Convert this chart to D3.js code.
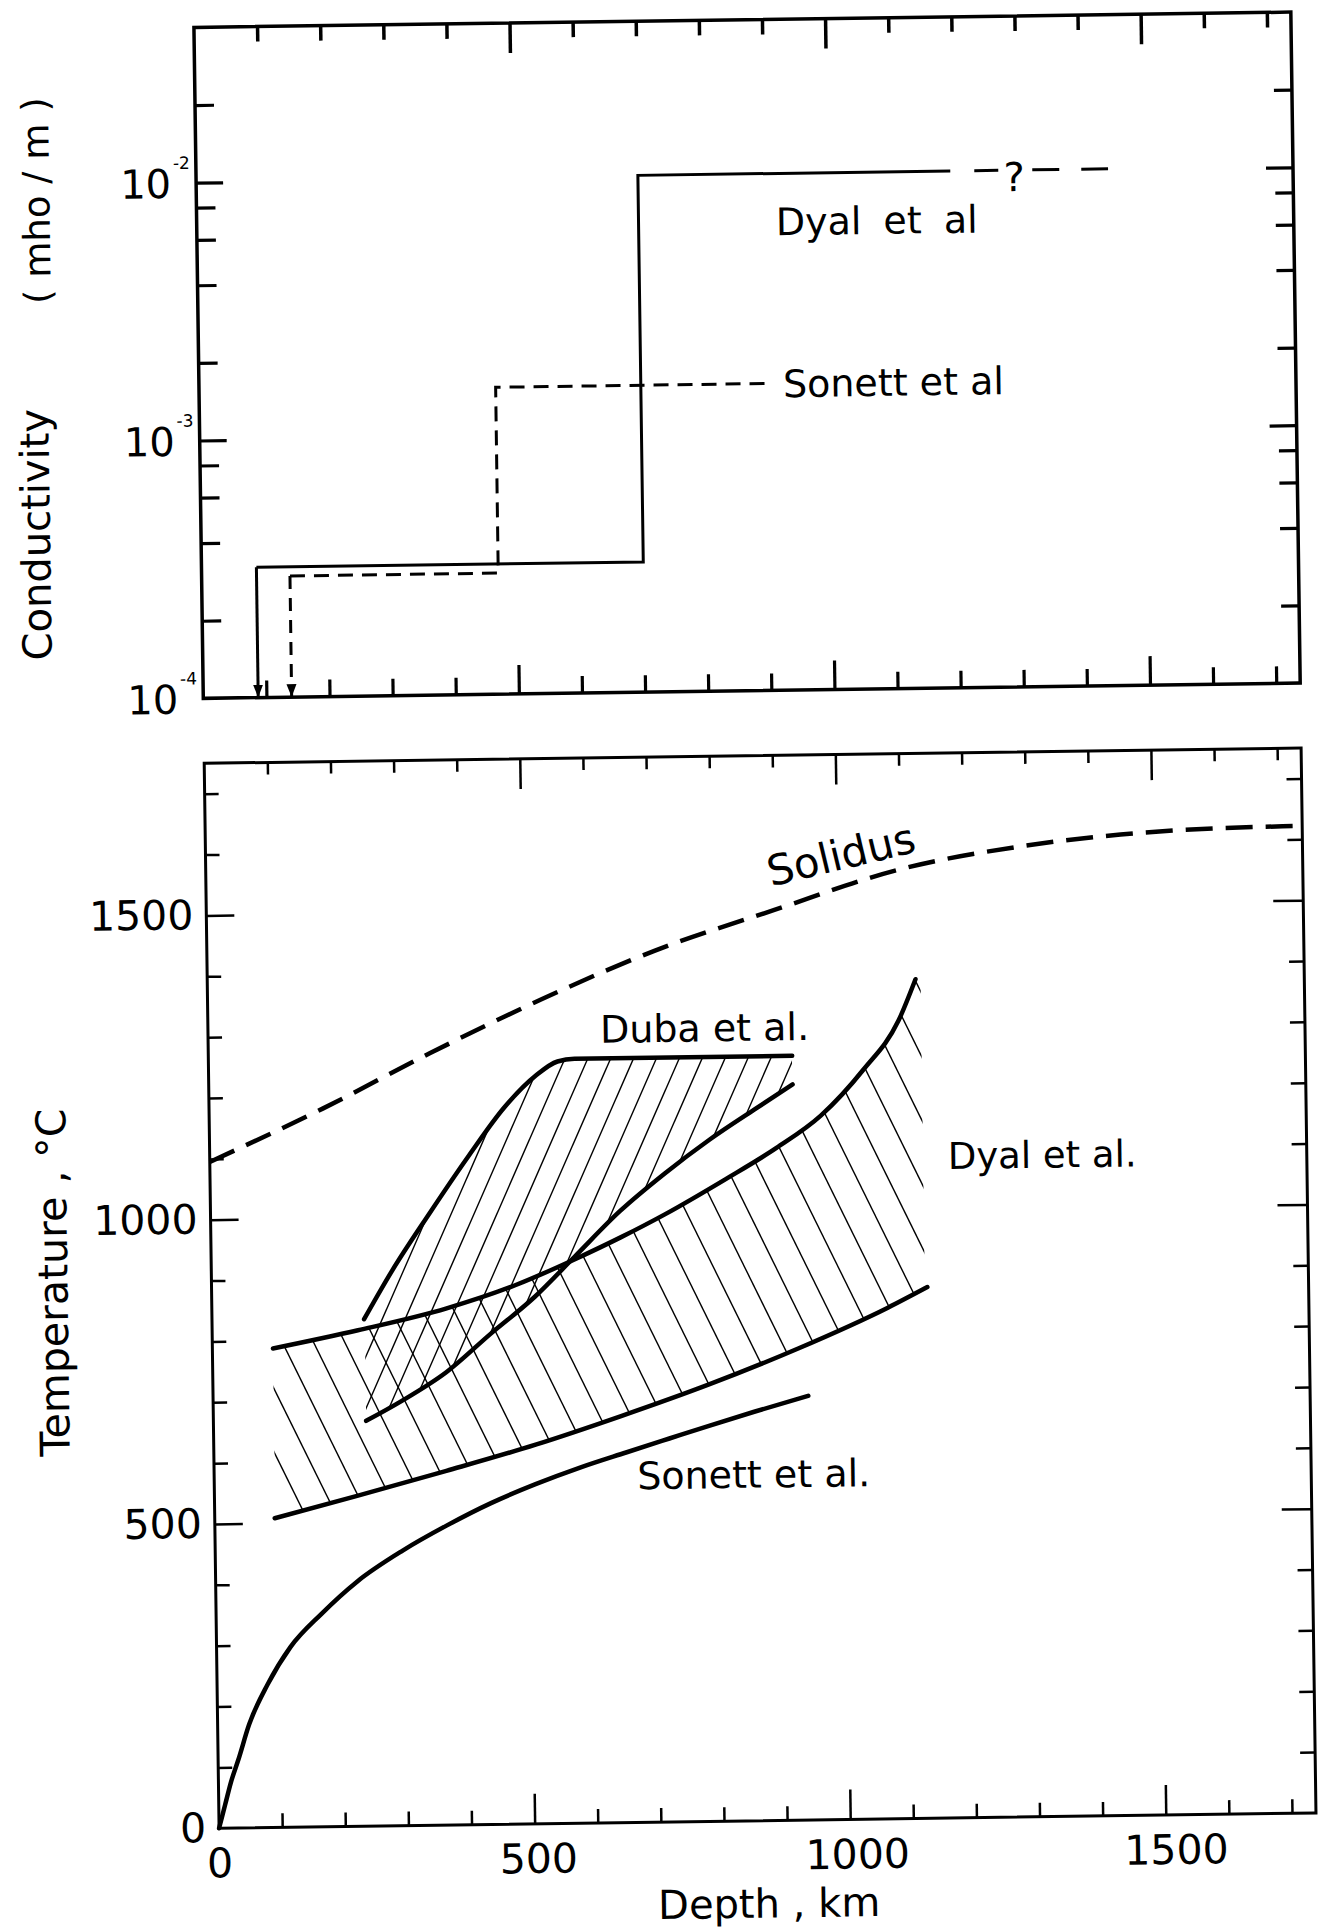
<!DOCTYPE html>
<html><head><meta charset="utf-8">
<script src="https://cdn.jsdelivr.net/npm/d3@7"></script>
<style>
html,body{margin:0;padding:0;background:#fff;}
svg{display:block;}
text{font-family:"DejaVu Sans",sans-serif;fill:#000;}
</style></head><body>
<svg id="chart" width="1319" height="1931"></svg>
<script>
// ---------------- data ----------------
const depthTicks = d3.range(100, 1701, 100);
const depthMajor = [500, 1000, 1500];
const depthLabels = [0, 500, 1000, 1500];
const condMajor = [1e-3, 1e-2];
const condMinor = [2e-4, 4e-4, 6e-4, 8e-4, 2e-3, 4e-3, 6e-3, 8e-3, 2e-2];
const condLabelExp = [-2, -3, -4];
const tempTicks = d3.range(100, 1701, 100);
const tempMajor = [500, 1000, 1500];
const tempLabels = [0, 500, 1000, 1500];

// conductivity step profiles (depth km, conductivity mho/m)
const dyalCondDepth = [87, 700, 1195];
const dyalCond = [3.2e-4, 1.01e-2];
const dyalCondExtDepth = [1195, 1445];
const sonettCondDepth = [140, 470, 900];
const sonettCond = [2.95e-4, 1.55e-3];

// temperature profiles (depth km, temperature C)
const solidus = [[0,1095],[180,1180],[350,1268],[530,1355],[710,1432],[900,1496],[1100,1560],[1300,1596],[1450,1612],[1600,1620],[1738,1622]];
const sonettTemp = [[0,0],[10,38],[20,76],[32,112],[50,170],[80,235],[117,296],[167,350],[224,402],[297,452],[367,492],[438,528],[509,558],[582,585],[653,608],[722,630],[785,650],[857,672],[943,697]];
const dyalUpper = [[96,787],[231,815],[372,849],[480,885],[579,928],[650,962],[719,998],[817,1055],[898,1105],[969,1157],[1037,1231],[1094,1311],[1122,1379]];
const dyalLower = [[95,508],[226,543],[368,582],[510,623],[646,668],[786,718],[928,775],[1071,840],[1134,873]];
const dubaUpper = [[241,833],[287,913],[346,1004],[411,1100],[468,1178],[518,1229],[553,1252],[580,1256],[925,1256]];
const dubaLower = [[242,666],[299,698],[370,744],[441,806],[512,866],[577,932],[649,1005],[721,1066],[792,1120],[863,1168],[925,1209]];

// ---------------- layout ----------------
const L = 207, R = 1304;
const TOP1 = 21, BOT1 = 692;
const TOP2 = 757, BOT2 = 1822;
const x = d3.scaleLinear().domain([0, 1738]).range([L, R]);
const yC = d3.scaleLog().domain([1e-4, 4e-2]).range([BOT1, TOP1]);
const yT = d3.scaleLinear().domain([0, 1750]).range([BOT2, TOP2]);

const svg = d3.select('#chart');
svg.append('rect').attr('width', 1319).attr('height', 1931).attr('fill', '#fff');
const defs = svg.append('defs');
defs.append('marker').attr('id', 'arr').attr('markerUnits', 'userSpaceOnUse')
  .attr('viewBox', '0 -6 14 12').attr('refX', 13).attr('refY', 0)
  .attr('markerWidth', 14).attr('markerHeight', 12).attr('orient', 'auto')
  .append('path').attr('d', 'M0,-5L13,0L0,5Z').attr('fill', '#000');

// the scanned figure is slightly tilted
const g = svg.append('g').attr('transform', 'rotate(-0.8,660,960)');

function ticks(axisGen, transform, values, size, width) {
  const a = g.append('g').attr('transform', transform)
    .call(axisGen.tickValues(values).tickSize(size).tickFormat(''));
  a.select('.domain').remove();
  a.selectAll('.tick line').attr('stroke', '#000').attr('stroke-width', width);
  a.selectAll('.tick text').remove();
  return a;
}
const xMinor = depthTicks.filter(d => d % 500 !== 0);
const tMinor = tempTicks.filter(d => d % 500 !== 0);

// ---------------- top plot ----------------
g.append('rect').attr('x', L).attr('y', TOP1).attr('width', R - L).attr('height', BOT1 - TOP1)
  .attr('fill', 'none').attr('stroke', '#000').attr('stroke-width', 3.5);
ticks(d3.axisTop(x), `translate(0,${TOP1})`, xMinor, -15, 3.5);
ticks(d3.axisTop(x), `translate(0,${TOP1})`, depthMajor, -30, 3.5);
ticks(d3.axisBottom(x), `translate(0,${BOT1})`, xMinor, -17, 3.2);
ticks(d3.axisBottom(x), `translate(0,${BOT1})`, depthMajor, -29, 3.2);
ticks(d3.axisLeft(yC), `translate(${L},0)`, condMinor, -19, 3.2);
ticks(d3.axisLeft(yC), `translate(${L},0)`, condMajor, -27, 3.2);
ticks(d3.axisRight(yC), `translate(${R},0)`, condMinor, -18, 3.2);
ticks(d3.axisRight(yC), `translate(${R},0)`, condMajor, -27, 3.2);

condLabelExp.forEach(e => {
  const v = Math.pow(10, e);
  g.append('text').attr('x', L - 25).attr('y', yC(v) + 15).attr('text-anchor', 'end')
    .attr('font-size', 40).text('10');
  g.append('text').attr('x', L - 23).attr('y', yC(v) - 14).attr('text-anchor', 'start')
    .attr('font-size', 17).text('-' + Math.abs(e));
});

// step profiles
const stepLine = d3.line().x(d => x(d[0])).y(d => yC(d[1])).curve(d3.curveStepAfter);
const dyalPts = [[dyalCondDepth[0], dyalCond[0]], [dyalCondDepth[1], dyalCond[1]], [dyalCondDepth[2], dyalCond[1]]];
g.append('path').attr('d', stepLine(dyalPts)).attr('fill', 'none').attr('stroke', '#000').attr('stroke-width', 3);
g.append('line').attr('x1', x(dyalCondExtDepth[0])).attr('x2', x(dyalCondExtDepth[1]))
  .attr('y1', yC(dyalCond[1])).attr('y2', yC(dyalCond[1]))
  .attr('stroke', '#000').attr('stroke-width', 3).attr('stroke-dasharray', '0,24,24,34,27,22,27,300');
g.append('line').attr('x1', x(dyalCondDepth[0])).attr('x2', x(dyalCondDepth[0]))
  .attr('y1', yC(dyalCond[0])).attr('y2', yC(1e-4))
  .attr('stroke', '#000').attr('stroke-width', 3).attr('marker-end', 'url(#arr)');

const sonPts = [[sonettCondDepth[0], sonettCond[0]], [sonettCondDepth[1], sonettCond[1]], [sonettCondDepth[2], sonettCond[1]]];
g.append('path').attr('d', stepLine(sonPts)).attr('fill', 'none').attr('stroke', '#000')
  .attr('stroke-width', 3).attr('stroke-dasharray', '15,9');
g.append('line').attr('x1', x(sonettCondDepth[0])).attr('x2', x(sonettCondDepth[0]))
  .attr('y1', yC(sonettCond[0])).attr('y2', yC(1e-4))
  .attr('stroke', '#000').attr('stroke-width', 3).attr('stroke-dasharray', '13,9').attr('marker-end', 'url(#arr)');

g.append('text').attr('x', 786).attr('y', 237).attr('font-size', 38).attr('word-spacing', 10).text('Dyal et al');
g.append('text').attr('x', 791).attr('y', 399).attr('font-size', 38).text('Sonett et al');
g.append('text').attr('x', 1025).attr('y', 196).attr('text-anchor', 'middle').attr('font-size', 40).text('?');

g.append('text').attr('transform', 'translate(56,526) rotate(-90)').attr('text-anchor', 'middle')
  .attr('font-size', 40).text('Conductivity');
g.append('text').attr('transform', 'translate(60,192) rotate(-90)').attr('text-anchor', 'middle')
  .attr('font-size', 37).text('( mho / m )');

// ---------------- bottom plot ----------------
g.append('rect').attr('x', L).attr('y', TOP2).attr('width', R - L).attr('height', BOT2 - TOP2)
  .attr('fill', 'none').attr('stroke', '#000').attr('stroke-width', 3);
ticks(d3.axisTop(x), `translate(0,${TOP2})`, xMinor, -12, 2.5);
ticks(d3.axisTop(x), `translate(0,${TOP2})`, depthMajor, -30, 2.5);
ticks(d3.axisBottom(x), `translate(0,${BOT2})`, xMinor, -14, 2.5);
ticks(d3.axisBottom(x), `translate(0,${BOT2})`, depthMajor, -30, 2.5);
ticks(d3.axisLeft(yT), `translate(${L},0)`, tMinor, -14, 2.5);
ticks(d3.axisLeft(yT), `translate(${L},0)`, tempMajor, -28, 2.5);
ticks(d3.axisRight(yT), `translate(${R},0)`, tMinor, -15, 2.5);
ticks(d3.axisRight(yT), `translate(${R},0)`, tempMajor, -30, 2.5);

const xl = g.append('g').attr('transform', `translate(0,${BOT2})`)
  .call(d3.axisBottom(x).tickValues(depthLabels).tickSize(0).tickPadding(20).tickFormat(d3.format('d')));
xl.select('.domain').remove();
xl.attr('font-family', 'DejaVu Sans').attr('font-size', 41);
xl.selectAll('.tick text').attr('dx', d => d * 0.0065);
const yl = g.append('g').attr('transform', `translate(${L},0)`)
  .call(d3.axisLeft(yT).tickValues(tempLabels).tickSize(0).tickPadding(13).tickFormat(d3.format('d')));
yl.select('.domain').remove();
yl.attr('font-family', 'DejaVu Sans').attr('font-size', 41);

const curve = d3.line().x(d => x(d[0])).y(d => yT(d[1])).curve(d3.curveMonotoneX);

// clip regions for hatching
function addClip(id, d) { defs.append('clipPath').attr('id', id).append('path').attr('d', d); }
const dyU = curve(dyalUpper), dyLo = curve(dyalLower);
const duU = curve(dubaUpper), duLo = curve(dubaLower);
const lastU = dyalUpper[dyalUpper.length - 1];
addClip('dyA', dyU + `L${x(1130)},${yT(lastU[1])}L${x(1130)},${BOT2}L${x(dyalUpper[0][0])},${BOT2}Z`);
addClip('dyB', dyLo + `L${x(dyalLower[dyalLower.length - 1][0])},${TOP2}L${x(dyalLower[0][0])},${TOP2}Z`);
addClip('duA', duU + `L${x(dubaUpper[dubaUpper.length - 1][0])},${BOT2}L${x(dubaUpper[0][0])},${BOT2}Z`);
addClip('duB', duLo + `L${x(dubaLower[dubaLower.length - 1][0])},${TOP2}L${x(dubaLower[0][0])},${TOP2}Z`);

function hatch(clipA, clipB, slope, spacing, phase) {
  const ga = g.append('g').attr('clip-path', `url(#${clipA})`);
  const gb = ga.append('g').attr('clip-path', `url(#${clipB})`);
  const H = BOT2 - TOP2;
  const span = H / Math.abs(slope);
  for (let c = L - span - 200 + phase; c < R + span; c += spacing) {
    let x1, y1, x2, y2;
    if (slope > 0) { x1 = c; y1 = TOP2; x2 = c + span; y2 = BOT2; }
    else { x1 = c; y1 = BOT2; x2 = c + span; y2 = TOP2; }
    gb.append('line').attr('x1', x1).attr('y1', y1).attr('x2', x2).attr('y2', y2)
      .attr('stroke', '#000').attr('stroke-width', 1.4);
  }
}
hatch('dyA', 'dyB', 2.1, 31, 5);
hatch('duA', 'duB', -2.2, 23, 3);

const thick = (d, w) => g.append('path').attr('d', d).attr('fill', 'none').attr('stroke', '#000')
  .attr('stroke-width', w).attr('stroke-linecap', 'round').attr('stroke-linejoin', 'round');
thick(dyU, 4.5);
thick(dyLo, 4.5);
thick(duU, 4.5);
thick(duLo, 4.5);
thick(curve(sonettTemp), 4.5);
thick(curve(solidus), 4.5).attr('stroke-dasharray', '27,13').attr('stroke-linecap', 'butt');

g.append('text').attr('transform', 'translate(772,888) rotate(-12.6)').attr('font-size', 42).text('Solidus');
g.append('text').attr('x', 599).attr('y', 1042).attr('font-size', 38).text('Duba et al.');
g.append('text').attr('x', 945).attr('y', 1173).attr('font-size', 37).text('Dyal et al.');
g.append('text').attr('x', 630).attr('y', 1489).attr('font-size', 38).text('Sonett et al.');

g.append('text').attr('transform', 'translate(63,1274) rotate(-90)').attr('text-anchor', 'middle')
  .attr('font-size', 41).text('Temperature , °C');
g.append('text').attr('x', 756).attr('y', 1919).attr('text-anchor', 'middle')
  .attr('font-size', 40).text('Depth , km');
</script>
</body></html>
